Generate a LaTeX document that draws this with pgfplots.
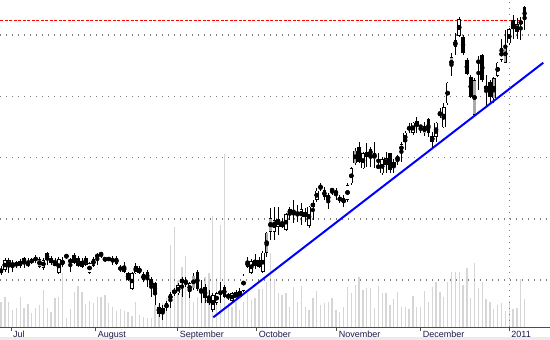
\documentclass[border=0pt]{standalone}
\usepackage{pgfplots}
\pgfplotsset{compat=1.18}
\usepackage{pgfplotstable}
\usepackage{fontspec}
\setmainfont{Liberation Sans}
\definecolor{lab}{RGB}{25,25,70}
\definecolor{volc}{RGB}{214,214,214}
\definecolor{cgray}{RGB}{170,170,170}
\definecolor{gridc}{RGB}{125,125,125}

\pgfplotstableread{
i o h l c t vol
0 67 74 65 71 1 38.3
1 70 82 68 80 0 43.3
2 73 82 67 80 0 38.3
3 75.5 80 68 75.5 0 30
4 76 79 72 76 0 31.7
5 74 81 72 79 0 43.3
6 82 83 72 78 2 31.7
7 76 82 73 76 0 36
8 79 82 76 79 0 27.3
9 79 85 77 83 0 31.7
10 73 83 72 81 1 35
11 72 82 70 80 0 50
12 87 88 75 80 2 31.7
13 77 84 75 82 1 28.3
14 75 82 74 77 0 41.7
15 67 83 66 81 0 43.3
16 75 83 73 80 1 66.7
17 83 86 81 85 0 21.7
18 79 82 68 79 0 30.7
19 85 87 76 77 2 48.3
20 82 84 73 74 2 54
21 79 82 72 73 2 48.3
22 75 84 74 82 1 36
23 67 78 66 77 0 39.3
24 74 83 73 81 1 37.3
25 84 87 75 84 0 42.7
26 86 88 82 86 0 42.7
27 81 83 78 81 0 45
28 81 83 79 81 0 37.3
29 80 84 75 80 0 33.3
30 82 84 75 76 2 29.3
31 73 75 68 70 2 30.7
32 68 78 67 74 1 29.3
33 67 68 59 60 2 28.3
34 51 68 50 67 0 24
35 66.5 77 66 74 0 38.3
36 71.7 74 66 67.3 2 25
37 60 68 58 66 1 23.3
38 68.3 70 53.3 60 2 21.7
39 60.7 63.3 43.3 55 2 21.7
40 56.7 58.3 35 46.7 2 35
41 33.3 37 23.3 26 2 35
42 28.3 35 20 31.7 0 36.7
43 31.7 39 29 36.7 0 41.7
44 40 48.3 31.7 46 1 95
45 46.7 52 44 50 0 113.3
46 46.7 56.7 45 55 0 60
47 57.3 63.3 43.3 60.7 0 73.3
48 58.3 63.3 53.3 56 2 84
49 48.3 58.3 41.7 56.7 0 54
50 51.7 66.7 50 64.3 1 38.3
51 68.3 70 49.3 50.7 2 43.3
52 48.3 60 36.7 50.7 0 54
53 53.3 56 36.7 41.7 2 62.7
54 36.7 50 35 41.7 1 66.7
55 30 46.7 28.3 45 0 124
56 37.3 48.3 35 46.7 0 61.7
57 47.3 58.3 36.7 47.3 0 115
58 53.3 55 41.7 43.3 2 186
59 44 46.7 40 44 0 36.7
60 39.3 48 38 46.7 0 33.3
61 41.7 50 40 47.7 1 38.3
62 43.3 52 42 49 0 30
63 49.3 66 48.3 64.3 0 38.3
64 79 83.3 71.7 72.7 2 46.7
65 67.3 80.7 66 79 0 40
66 74 86 70.7 80 1 41.7
67 80 83 72 73.3 2 50.7
68 68.3 89 67 87.3 0 50.7
69 87.3 108.3 83.3 107.3 1 58
70 108.3 131.7 100 121.7 1 86.7
71 108.3 132.7 100 120 0 60.7
72 113.3 132.7 105 120.7 0 46.7
73 113.3 121.7 111.7 116.7 0 45
74 110 126.7 109.3 125.7 0 46.7
75 126 132.7 120 130.7 0 33.3
76 126.7 140 116.7 126.7 0 53.3
77 125.7 135 118.3 125.7 0 38.3
78 122.7 136.7 115 130.7 0 54
79 128.3 131.7 118.3 122.7 2 33.3
80 114 134 111.7 133.3 0 30
81 132.7 140 120 137.3 0 41.7
82 140 151.7 138.3 149.3 0 49.3
83 151.7 157.3 149.3 153.3 0 35
84 150 153.3 140 142.7 2 37.3
85 140 146.7 130.7 145 0 38.3
86 150 151.7 145 150 0 41.7
87 146 151.7 140 149.3 0 30
88 140 145 137.3 141.7 0 28.3
89 136.7 145 132.7 141.7 0 33.3
90 140 156.7 138.3 155 0 53.3
91 156.7 173.3 155 171.7 0 46.7
92 176.7 191.7 175 189.3 1 55
93 193.3 198.3 176.7 178.3 2 63.3
94 171.7 188.3 170.7 186.7 0 50
95 183.3 197.3 173.3 188.3 1 51.7
96 190.7 193.3 173.3 185 2 52
97 180.7 198.3 171.7 186.7 1 32
98 173.3 186.7 171.7 173.3 0 54
99 166.7 182.7 165 180.7 0 47.3
100 175 188.3 167.3 181.7 1 47.3
101 186.7 187.3 166.7 170 2 35
102 173.3 180.7 166.7 178.3 0 41
103 181.7 185 175 181.7 0 48.3
104 188.3 198.3 178.3 196 0 33.3
105 198.3 209.3 190 207.3 0 33.3
106 211.7 216.7 206.7 211.7 0 31
107 207.3 218.3 205 217.3 0 44
108 219.3 223.3 206.7 214 2 33.3
109 214 215 207.3 213 2 33.3
110 206.7 218.3 204 214 1 49.3
111 220.7 221.7 203.3 207.3 2 38.3
112 198.3 208.3 193.3 204 0 53.3
113 203.3 218.3 198.3 217.3 0 58.3
114 226 231.7 221.7 226 0 48.3
115 212.7 236.7 211.7 232.7 0 43.3
116 236.7 258.3 235 257.3 0 58.3
117 272.7 286.7 264 282.7 1 68.3
118 293.3 306.7 285 300 0 68.3
119 304 323 303 320.7 0 68.3
120 303.3 305 285 286.7 2 55
121 280 282 265 266 2 71.7
122 263.3 265 242 243.3 2 41.7
123 225 262 223 260 1 77.3
124 278.3 284 250 278.3 0 51.7
125 285 286 258 260 2 58.3
126 254 265 233.3 250.7 2 40.7
127 258.3 260 237.3 243.3 2 38.3
128 241.7 262.7 236.7 261.7 1 30.7
129 264 278.3 262.7 277.3 0 35
130 280 300.7 278.3 291.7 0 37.3
131 277.3 310 276.7 295 1 29.3
132 296.7 311.7 295 310.7 0 39.3
133 320 325 300.7 310.7 2 30.7
134 308.3 321.7 300.7 316 1 31.7
135 316.7 323.3 300 318.3 0 60.7
136 333.3 334 310 320 2 40.7
}\candles

\begin{document}
\begin{tikzpicture}
\useasboundingbox (0,-13bp) rectangle (550bp,327bp);
\fill[black!8] (0,-13bp) rectangle (550bp,-10bp);
\begin{axis}[
  x=3.85bp, y=1bp,
  xmin=-0.26, xmax=142.6, ymin=13, ymax=340,
  axis x line=bottom, axis y line=none,
  x axis line style={-, draw=black!70, line width=0.8bp},
  xtick={2.6,24.6,45.9,66.4,87.2,109.0,132.0},
  xticklabels={Jul,August,September,October,November,December,2011},
  tick align=outside, major tick length=4bp,
  tick style={black!70, line width=0.8bp},
  xticklabel style={anchor=north west, inner sep=0pt, xshift=2bp, font=\fontsize{9bp}{10bp}\selectfont, text=lab},
  ytick=\empty,
  gridl/.style={gridc, line width=1.2bp, dash pattern=on 1.2bp off 4.8bp},
]
\addplot[ycomb, draw=volc, line width=1.3bp, mark=none] table[x=i,y=vol]{\candles};
\addplot[gridl] coordinates {(-0.26,305) (142.6,305)};
\addplot[gridl] coordinates {(-0.26,243.3) (142.6,243.3)};
\addplot[gridl] coordinates {(-0.26,182.7) (142.6,182.7)};
\addplot[gridl] coordinates {(-0.26,121) (142.6,121)};
\addplot[gridl] coordinates {(-0.26,60) (142.6,60)};
\addplot[gridl] coordinates {(132,13) (132,340)};
\addplot[red, line width=1bp, dash pattern=on 3bp off 1.5bp] coordinates {(-0.26,319.3) (135.3,319.3)};
% wicks
\addplot[only marks, mark=none, error bars/.cd, y dir=both, y explicit, error mark=none,
  error bar style={draw=black, line width=0.7bp, solid}]
  table[x=i, y expr={(\thisrow{h}+\thisrow{l})/2}, y error expr={(\thisrow{h}-\thisrow{l})/2}]{\candles};
% body outline
\addplot[only marks, mark=none, error bars/.cd, y dir=both, y explicit, error mark=none,
  error bar style={draw=black, line width=3.6bp, solid}]
  table[x=i, y expr={(\thisrow{o}+\thisrow{c})/2}, y error expr={max(abs(\thisrow{o}-\thisrow{c})/2,0.6)}]{\candles};
% white inner
\addplot[only marks, mark=none, restrict expr to domain={\thisrow{t}}{-0.5:0.5},
  error bars/.cd, y dir=both, y explicit, error mark=none,
  error bar style={draw=white, line width=2.2bp, solid}]
  table[x=i, y expr={(\thisrow{o}+\thisrow{c})/2}, y error expr={max(abs(\thisrow{o}-\thisrow{c})/2-0.7,0)}]{\candles};
% gray inner
\addplot[only marks, mark=none, restrict expr to domain={\thisrow{t}}{0.5:1.5},
  error bars/.cd, y dir=both, y explicit, error mark=none,
  error bar style={draw=cgray, line width=2.2bp, solid}]
  table[x=i, y expr={(\thisrow{o}+\thisrow{c})/2}, y error expr={max(abs(\thisrow{o}-\thisrow{c})/2-0.7,0)}]{\candles};
\addplot[blue, line width=2bp] coordinates {(55.14,22.7) (140.86,277.3)};
\end{axis}
\end{tikzpicture}
\end{document}
